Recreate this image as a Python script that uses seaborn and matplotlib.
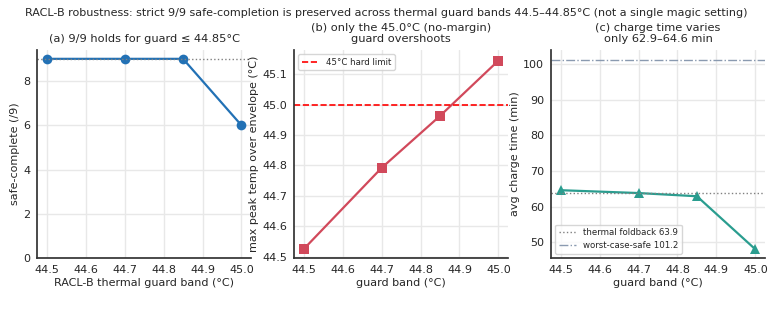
import matplotlib
matplotlib.use("Agg")
import matplotlib.pyplot as plt
import seaborn as sns
import pandas as pd

guard = [44.5, 44.7, 44.85, 45.0]
safe_complete = [9, 9, 9, 6]
peak_temp = [44.525, 44.792, 44.963, 45.145]
charge_time = [64.6, 63.8, 62.9, 48.0]
hard_limit = 45.0
foldback = 63.9
worst_case = 101.2

sns.set_theme(style="whitegrid")
plt.rcParams.update({
    "font.family": ["DejaVu Sans"],
    "font.size": 8,
    "axes.labelsize": 8,
    "xtick.labelsize": 8,
    "ytick.labelsize": 8,
    "axes.titlesize": 8.2,
    "axes.edgecolor": "#333333",
    "grid.color": "#e8e8e8",
})

df = pd.DataFrame({"guard": guard, "safe": safe_complete, "peak": peak_temp, "charge": charge_time})

fig, axes = plt.subplots(1, 3, figsize=(7.72, 3.31), dpi=100)
fig.subplots_adjust(left=0.048, right=0.991, bottom=0.22, top=0.849, wspace=0.2)

c_blue = "#2271b5"
c_red = "#d1495b"
c_teal = "#2a9d8f"

ax = axes[0]
sns.lineplot(data=df, x="guard", y="safe", ax=ax, color=c_blue, marker="o",
             markersize=7, linewidth=1.6, markeredgewidth=0)
ax.axhline(9, color="grey", linestyle=":", linewidth=1)
ax.set_ylim(0, 9.4)
ax.set_xlabel("RACL-B thermal guard band (°C)")
ax.set_ylabel("safe-complete (/9)")
ax.set_title("(a) 9/9 holds for guard ≤ 44.85°C", pad=5.5)

ax = axes[1]
sns.lineplot(data=df, x="guard", y="peak", ax=ax, color=c_red, marker="s",
             markersize=7, linewidth=1.6, markeredgewidth=0)
ax.axhline(hard_limit, color="red", linestyle="--", linewidth=1.2, label="45°C hard limit")
ax.set_ylim(44.495, 45.18)
ax.set_xlabel("guard band (°C)")
ax.set_ylabel("max peak temp over envelope (°C)")
ax.set_title("(b) only the 45.0°C (no-margin)\nguard overshoots", pad=5.5)
ax.legend(loc="upper left", fontsize=6.2)

ax = axes[2]
sns.lineplot(data=df, x="guard", y="charge", ax=ax, color=c_teal, marker="^",
             markersize=7, linewidth=1.6, markeredgewidth=0)
ax.axhline(foldback, color="grey", linestyle=":", linewidth=1, label=f"thermal foldback {foldback}")
ax.axhline(worst_case, color="#8a9ab0", linestyle="-.", linewidth=1, label=f"worst-case-safe {worst_case}")
ax.set_ylim(45.5, 104)
ax.set_xlabel("guard band (°C)")
ax.set_ylabel("avg charge time (min)")
ax.set_title("(c) charge time varies\nonly 62.9–64.6 min", pad=5.5)
ax.legend(loc="lower left", fontsize=6.2)

for ax in axes:
    ax.set_xticks([44.5, 44.6, 44.7, 44.8, 44.9, 45.0])
    ax.set_xlim(44.475, 45.025)
    sns.despine(ax=ax)
    ax.tick_params(axis="both", length=3, color="#333333", pad=2)
    ax.xaxis.labelpad = 2
    ax.yaxis.labelpad = 2

fig.suptitle("RACL-B robustness: strict 9/9 safe-completion is preserved across thermal guard bands 44.5–44.85°C (not a single magic setting)",
             fontsize=8, y=0.975)

fig.savefig("out.png", dpi=100)
